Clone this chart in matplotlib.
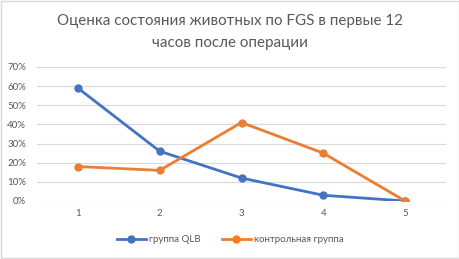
import matplotlib
matplotlib.use("Agg")
import matplotlib.pyplot as plt
from matplotlib.ticker import PercentFormatter
from matplotlib.patches import Rectangle

categories = ["1", "2", "3", "4", "5"]
qlb = [59, 26, 12, 3, 0]
control = [18, 16, 41, 25, 0]
series_names = ["группа QLB", "контрольная группа"]
title = "Оценка состояния животных по FGS в первые 12\nчасов после операции"

plt.rcParams['font.family'] = ['Lato', 'DejaVu Sans']
text_color = "#595959"

fig = plt.figure(figsize=(4.6, 2.59), dpi=100)
ax = fig.add_axes([37/460, 1-201/259, (446-37)/460, (201-67)/259])

x = list(range(len(categories)))
ax.plot(x, qlb, color="#4472C4", lw=2.0, marker="o", ms=5, label=series_names[0])
ax.plot(x, control, color="#ED7D31", lw=2.0, marker="o", ms=5, label=series_names[1])

ax.set_xlim(-0.5, len(categories) - 0.5)
ax.set_ylim(0, 70)
ax.set_yticks(range(0, 71, 10))
ax.yaxis.set_major_formatter(PercentFormatter(decimals=0))
ax.set_xticks(x)
ax.set_xticklabels(categories)
ax.grid(axis="y", color="#D9D9D9", lw=0.8)
ax.set_axisbelow(True)
for s in ax.spines.values():
    s.set_visible(False)
ax.tick_params(length=0, labelsize=7, colors=text_color, pad=6)
ax.tick_params(axis="y", pad=8)

fig.text(0.5, 1-32/259, title, ha="center", va="center", fontsize=10.9,
         color=text_color, linespacing=1.65)

fig.legend(loc="center", bbox_to_anchor=(0.5, 1-240/259), ncol=2, frameon=False,
           fontsize=7, labelcolor=text_color, handlelength=3, columnspacing=2.2,
           handletextpad=0.3)

fig.patches.append(Rectangle((0.002, 0.004), 0.996, 0.992, transform=fig.transFigure,
                             fill=False, edgecolor="#D9D9D9", lw=1))

fig.savefig("out.png", dpi=100)
